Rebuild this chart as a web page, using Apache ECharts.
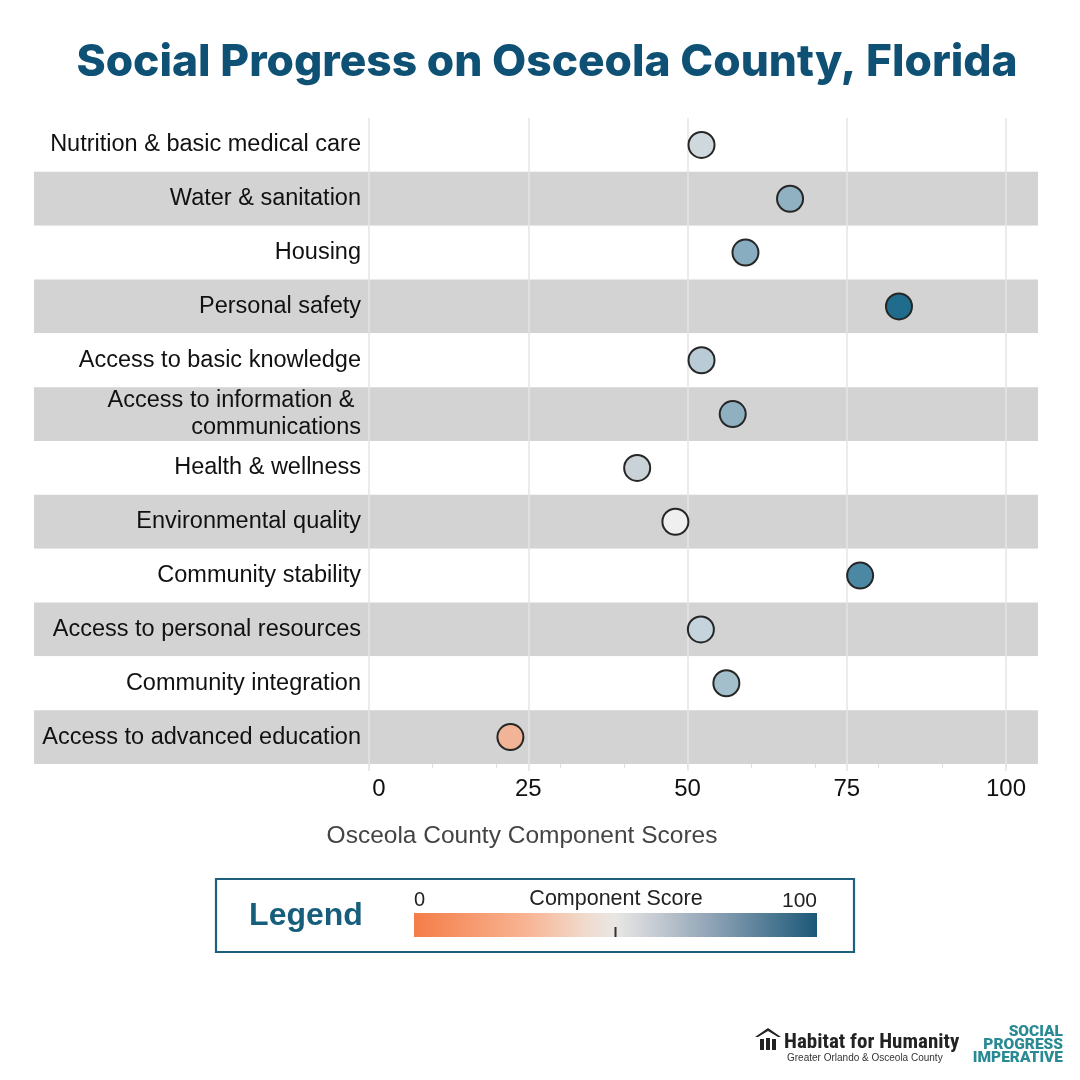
<!DOCTYPE html>
<html>
<head>
<meta charset="utf-8">
<script src="https://cdn.jsdelivr.net/npm/echarts@6/dist/echarts.min.js"></script>
<style>
html,body{margin:0;padding:0;background:#fff;}
#chart{width:1080px;height:1080px;}
</style>
</head>
<body>
<div id="chart"></div>
<script>
// ---- data ----
const categories = [
  'Nutrition & basic medical care',
  'Water & sanitation',
  'Housing',
  'Personal safety',
  'Access to basic knowledge',
  'Access to information & communications',
  'Health & wellness',
  'Environmental quality',
  'Community stability',
  'Access to personal resources',
  'Community integration',
  'Access to advanced education'
];
const scores = [52.2, 66.1, 59.1, 83.2, 52.2, 57.1, 42.1, 48.1, 77.1, 52.1, 56.1, 22.2];
const dotColors = ['#cfd8dc', '#8fb1c2', '#88adc0', '#1f6c8c', '#b9cbd4', '#8eb0c1',
                   '#c9d3d7', '#efefef', '#4b88a4', '#c4d3dc', '#a3bfcb', '#f1b497'];
const xTicks = [0, 25, 50, 75, 100];
const legendLabels = ['0', 'Component Score', '100'];

const TEAL = '#0f5075';
const chart = echarts.init(document.getElementById('chart'), null, {renderer: 'canvas'});

const option = {
  backgroundColor: '#ffffff',
  animation: false,
  title: [
    {
      text: 'Social Progress on Osceola County, Florida',
      left: 542, top: 36, textAlign: 'center',
      textStyle: {fontFamily: 'Inter', fontWeight: 800, fontSize: 44.3, color: TEAL}
    },
    {
      text: 'Osceola County Component Scores',
      left: 517, top: 819, textAlign: 'center',
      textStyle: {fontFamily: 'Liberation Sans', fontWeight: 'normal', fontSize: 24.5, color: '#444'}
    }
  ],
  grid: [
    {left: 34, right: 42, top: 118, height: 646},
    {left: 369, right: 74, top: 118, height: 646}
  ],
  xAxis: [
    {gridIndex: 0, type: 'value', show: false, min: 0, max: 1},
    {
      gridIndex: 1, type: 'value', min: 0, max: 100, interval: 25, position: 'bottom', z: 3,
      axisLine: {show: false},
      axisTick: {show: true, length: 7, lineStyle: {color: '#e4e4e4', width: 1.5}},
      splitLine: {show: true, lineStyle: {color: '#e4e4e4', width: 1.5}},
      axisLabel: {
        margin: 13, fontFamily: 'Liberation Sans', fontSize: 24, color: '#111',
        formatter: v => xTicks.indexOf(v) >= 0 ? (v === 0 ? '{z|0}' : String(v)) : '',
        rich: {z: {fontFamily: 'Liberation Sans', fontSize: 24, color: '#111', padding: [0, 0, 0, 20]}}
      }
    },
    {
      gridIndex: 1, type: 'value', min: 0, max: 100, interval: 10, position: 'bottom', offset: 0, z: 2,
      axisLine: {show: false},
      axisTick: {show: true, length: 4, lineStyle: {color: '#dedede', width: 1}},
      splitLine: {show: false},
      axisLabel: {show: false}
    }
  ],
  yAxis: [
    {
      gridIndex: 0, type: 'category', data: categories, inverse: true, z: 0,
      axisLine: {show: false}, axisTick: {show: false}, axisLabel: {show: false},
      splitLine: {show: false},
      splitArea: {show: true, areaStyle: {color: ['#ffffff', '#d3d3d3']}}
    },
    {
      gridIndex: 1, type: 'category', data: categories, inverse: true, z: 3,
      axisLine: {show: false}, axisTick: {show: false}, splitLine: {show: false},
      axisLabel: {
        margin: 8, fontFamily: 'Liberation Sans', fontSize: 23.5, color: '#111',
        width: 340, overflow: 'break', lineHeight: 27, align: 'right'
      }
    }
  ],
  series: [
    {
      type: 'scatter', xAxisIndex: 1, yAxisIndex: 1, z: 5,
      symbol: 'circle', symbolSize: 26,
      data: scores.map((s, i) => ({value: [s, categories[i]], itemStyle: {color: dotColors[i]}})),
      itemStyle: {borderColor: '#262626', borderWidth: 2, opacity: 1}
    }
  ],
  graphic: [
    // Legend box
    {type: 'rect', shape: {x: 216, y: 879, width: 638, height: 73},
     style: {fill: '#fff', stroke: '#1d5f7c', lineWidth: 2.2}},
    {type: 'text', x: 306, y: 916,
     style: {text: 'Legend', fontFamily: 'Liberation Sans', fontWeight: 'bold', fontSize: 32, fill: '#175e7d',
             textAlign: 'center', textVerticalAlign: 'middle'}},
    {type: 'rect', shape: {x: 414, y: 913, width: 403, height: 24},
     style: {fill: new echarts.graphic.LinearGradient(0, 0, 1, 0, [
       {offset: 0, color: '#f47d48'},
       {offset: 0.28, color: '#f8b493'},
       {offset: 0.42, color: '#f1d9cb'},
       {offset: 0.5, color: '#e9e7e5'},
       {offset: 0.6, color: '#c5cbd3'},
       {offset: 0.75, color: '#8aa0b3'},
       {offset: 1, color: '#1b5878'}
     ])}},
    {type: 'rect', shape: {x: 614.5, y: 927, width: 2, height: 10}, style: {fill: '#333'}},
    {type: 'text', x: 414, y: 900,
     style: {text: legendLabels[0], fontFamily: 'Liberation Sans', fontSize: 20, fill: '#222',
             textAlign: 'left', textVerticalAlign: 'middle'}},
    {type: 'text', x: 616, y: 899,
     style: {text: legendLabels[1], fontFamily: 'Liberation Sans', fontSize: 21.5, fill: '#222',
             textAlign: 'center', textVerticalAlign: 'middle'}},
    {type: 'text', x: 817, y: 901,
     style: {text: legendLabels[2], fontFamily: 'Liberation Sans', fontSize: 21, fill: '#222',
             textAlign: 'right', textVerticalAlign: 'middle'}},
    // Habitat logo
    {type: 'polygon', shape: {points: [[755, 1037], [768, 1028], [781, 1037], [778, 1037], [768, 1031], [758, 1037]]},
     style: {fill: '#222'}},
    {type: 'rect', shape: {x: 760, y: 1039, width: 4, height: 11}, style: {fill: '#222'}},
    {type: 'rect', shape: {x: 766, y: 1038, width: 4, height: 12}, style: {fill: '#222'}},
    {type: 'rect', shape: {x: 772, y: 1039, width: 4, height: 11}, style: {fill: '#222'}},
    {type: 'text', x: 784, y: 1043,
     style: {text: 'Habitat for Humanity', fontFamily: 'Roboto Condensed, Liberation Sans Narrow, Roboto', fontWeight: 'bold',
             fontSize: 21, fill: '#222', textAlign: 'left', textVerticalAlign: 'middle'}},
    {type: 'text', x: 787, y: 1058,
     style: {text: 'Greater Orlando & Osceola County', fontFamily: 'Liberation Sans Narrow, Liberation Sans',
             fontSize: 10, fill: '#333', textAlign: 'left', textVerticalAlign: 'middle'}},
    {type: 'text', x: 1063, y: 1032,
     style: {text: 'SOCIAL', fontFamily: 'Roboto', fontWeight: 900, fontSize: 15.5, fill: '#2a8a94',
             textAlign: 'right', textVerticalAlign: 'middle'}},
    {type: 'text', x: 1063, y: 1045,
     style: {text: 'PROGRESS', fontFamily: 'Roboto', fontWeight: 900, fontSize: 15.5, fill: '#2a8a94',
             textAlign: 'right', textVerticalAlign: 'middle'}},
    {type: 'text', x: 1063, y: 1058,
     style: {text: 'IMPERATIVE', fontFamily: 'Roboto', fontWeight: 900, fontSize: 15.5, fill: '#2a8a94',
             textAlign: 'right', textVerticalAlign: 'middle'}}
  ]
};
chart.setOption(option);
</script>
</body>
</html>
